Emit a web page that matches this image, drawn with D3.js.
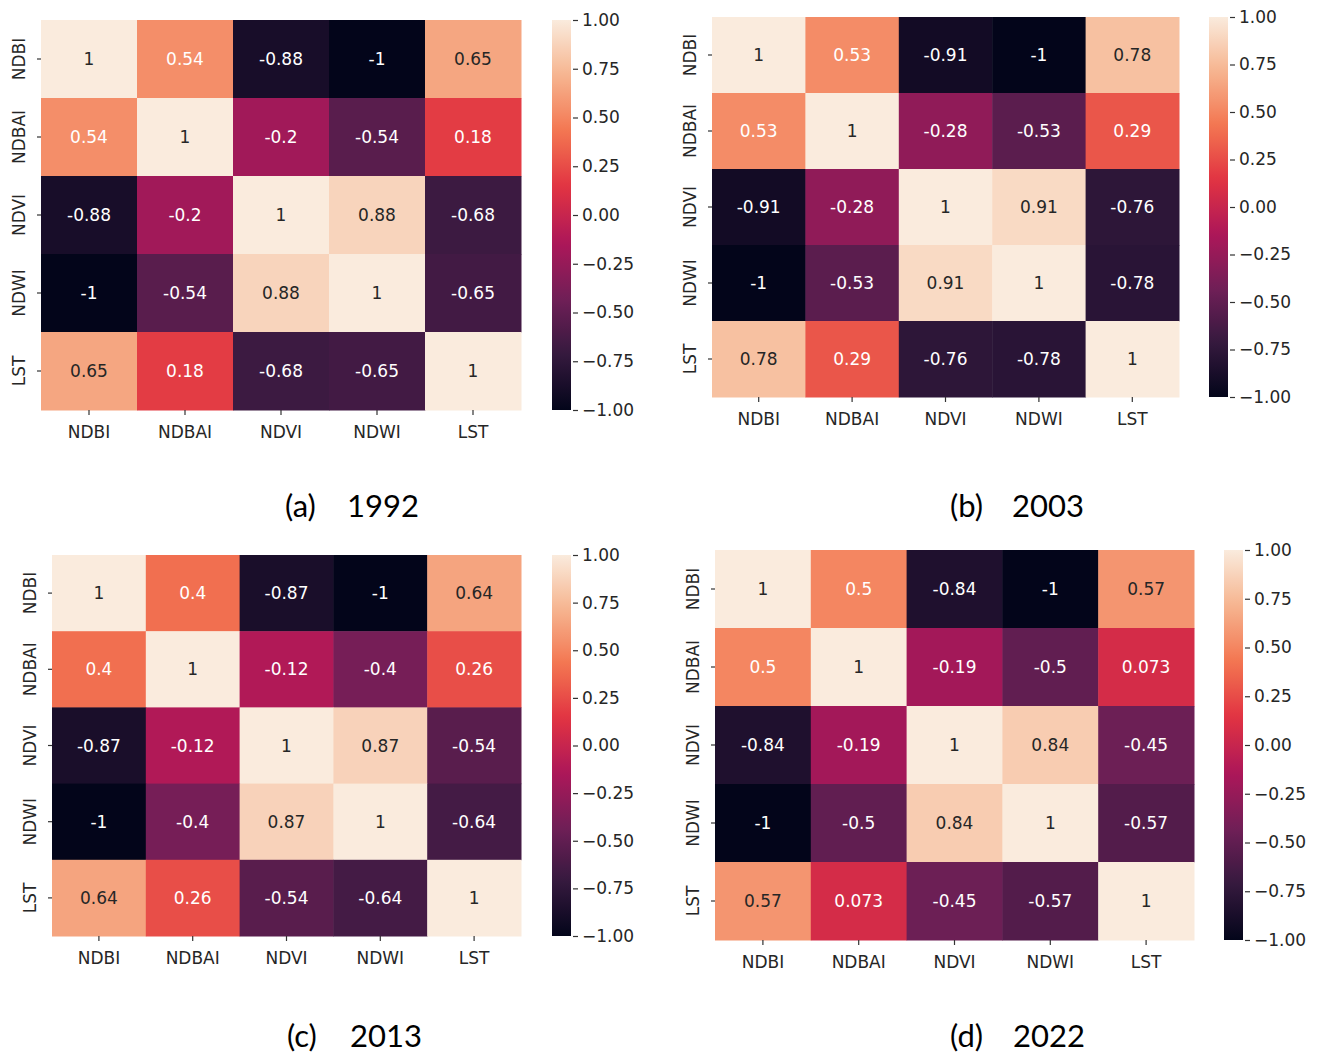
<!DOCTYPE html>
<html>
<head>
<meta charset="utf-8">
<script src="https://cdn.jsdelivr.net/npm/d3@7"></script>
<style>
  html, body { margin: 0; padding: 0; background: #fff; }
  svg { display: block; }
</style>
</head>
<body>
<svg id="chart" width="1320" height="1056"></svg>
<script>
// Correlation matrices between spectral indices and land surface temperature
const variables = ["NDBI", "NDBAI", "NDVI", "NDWI", "LST"];
const years = ["1992", "2003", "2013", "2022"];
const panelLetters = ["(a)", "(b)", "(c)", "(d)"];

const corr1992 = [
  [1, 0.54, -0.88, -1, 0.65],
  [0.54, 1, -0.2, -0.54, 0.18],
  [-0.88, -0.2, 1, 0.88, -0.68],
  [-1, -0.54, 0.88, 1, -0.65],
  [0.65, 0.18, -0.68, -0.65, 1]
];
const corr2003 = [
  [1, 0.53, -0.91, -1, 0.78],
  [0.53, 1, -0.28, -0.53, 0.29],
  [-0.91, -0.28, 1, 0.91, -0.76],
  [-1, -0.53, 0.91, 1, -0.78],
  [0.78, 0.29, -0.76, -0.78, 1]
];
const corr2013 = [
  [1, 0.4, -0.87, -1, 0.64],
  [0.4, 1, -0.12, -0.4, 0.26],
  [-0.87, -0.12, 1, 0.87, -0.54],
  [-1, -0.4, 0.87, 1, -0.64],
  [0.64, 0.26, -0.54, -0.64, 1]
];
const corr2022 = [
  [1, 0.5, -0.84, -1, 0.57],
  [0.5, 1, -0.19, -0.5, 0.073],
  [-0.84, -0.19, 1, 0.84, -0.45],
  [-1, -0.5, 0.84, 1, -0.57],
  [0.57, 0.073, -0.45, -0.57, 1]
];
const matrices = [corr1992, corr2003, corr2013, corr2022];
const colorbarTicks = [1, 0.75, 0.5, 0.25, 0, -0.25, -0.5, -0.75, -1];

// "rocket" colormap control points
const rocketStops = ["#03051a", "#35193e", "#701f57", "#ad1759", "#e13342", "#f37651", "#f6b48f", "#faebdd"];
const rocket = d3.scaleLinear()
  .domain(d3.range(rocketStops.length).map(i => i / (rocketStops.length - 1)))
  .range(rocketStops)
  .interpolate(d3.interpolateRgb);
const color = v => rocket((v + 1) / 2);

// Panel geometry: heatmap box and colourbar strip
const layout = [
  { x0: 41,  x1: 521,  y0: 20,  y1: 410, cb0: 552,  cb1: 571,  capX: 285, yearX: 347,  capY: 517 },
  { x0: 712, x1: 1179, y0: 17,  y1: 397, cb0: 1209, cb1: 1228, capX: 950, yearX: 1012, capY: 517 },
  { x0: 52,  x1: 521,  y0: 555, y1: 936, cb0: 552,  cb1: 571,  capX: 287, yearX: 350,  capY: 1047 },
  { x0: 715, x1: 1194, y0: 550, y1: 940, cb0: 1224, cb1: 1243, capX: 950, yearX: 1013, capY: 1047 }
];

const FONT = "'DejaVu Sans', sans-serif";
const TXT = "#262626";
const annotFmt = d3.formatLocale({ decimal: ".", thousands: ",", grouping: [3], currency: ["", ""], minus: "-" }).format(".2~g");
const cbFmt = d3.format(".2f");

// seaborn-style annotation colour from the cell's luminance
function textColor(fill) {
  const c = d3.rgb(fill);
  const lin = u => { u /= 255; return u <= 0.03928 ? u / 12.92 : Math.pow((u + 0.055) / 1.055, 2.4); };
  const lum = 0.2126 * lin(c.r) + 0.7152 * lin(c.g) + 0.0722 * lin(c.b);
  return lum > 0.408 ? TXT : "#ffffff";
}

const svg = d3.select("#chart");
const defs = svg.append("defs");

// vertical gradient for the colourbars
const grad = defs.append("linearGradient")
  .attr("id", "rocketGrad").attr("x1", 0).attr("y1", 1).attr("x2", 0).attr("y2", 0);
d3.range(0, 1.0001, 0.02).forEach(t => {
  grad.append("stop").attr("offset", t).attr("stop-color", rocket(t));
});

matrices.forEach((m, p) => {
  const L = layout[p];
  const g = svg.append("g");

  const x = d3.scaleBand().domain(variables).range([L.x0, L.x1]).padding(0);
  const y = d3.scaleBand().domain(variables).range([L.y0, L.y1]).padding(0);

  const cells = [];
  m.forEach((row, i) => row.forEach((v, j) => cells.push({ r: variables[i], c: variables[j], v })));

  g.selectAll("rect.cell").data(cells).join("rect")
    .attr("class", "cell")
    .attr("x", d => x(d.c))
    .attr("y", d => y(d.r))
    .attr("width", x.bandwidth() + 0.5)
    .attr("height", y.bandwidth() + 0.5)
    .attr("fill", d => color(d.v));

  g.selectAll("text.annot").data(cells).join("text")
    .attr("class", "annot")
    .attr("x", d => x(d.c) + x.bandwidth() / 2)
    .attr("y", d => y(d.r) + y.bandwidth() / 2)
    .attr("text-anchor", "middle")
    .attr("dominant-baseline", "central")
    .attr("font-family", FONT)
    .attr("font-size", 17)
    .attr("fill", d => textColor(color(d.v)))
    .text(d => annotFmt(d.v));

  // x axis
  const gx = g.append("g")
    .attr("transform", `translate(0,${L.y1})`)
    .call(d3.axisBottom(x).tickSize(5).tickPadding(11));
  gx.select(".domain").remove();
  gx.selectAll(".tick line").attr("stroke", "#333").attr("stroke-width", 1.2);
  gx.selectAll(".tick text")
    .attr("font-family", FONT).attr("font-size", 17).attr("fill", TXT);

  // y axis with rotated labels
  const gy = g.append("g")
    .attr("transform", `translate(${L.x0},0)`)
    .call(d3.axisLeft(y).tickSize(4));
  gy.select(".domain").remove();
  gy.selectAll(".tick line").attr("stroke", "#333").attr("stroke-width", 1.2);
  gy.selectAll(".tick text")
    .attr("transform", "rotate(-90)")
    .attr("x", 0).attr("y", -22).attr("dy", null)
    .attr("text-anchor", "middle")
    .attr("dominant-baseline", "central")
    .attr("font-family", FONT).attr("font-size", 17).attr("fill", TXT);

  // colourbar
  const cy = d3.scaleLinear().domain([-1, 1]).range([L.y1, L.y0]);
  g.append("rect")
    .attr("x", L.cb0).attr("y", L.y0)
    .attr("width", L.cb1 - L.cb0).attr("height", L.y1 - L.y0)
    .attr("fill", "url(#rocketGrad)");
  const gc = g.append("g")
    .attr("transform", `translate(${L.cb1 + 2},0)`)
    .call(d3.axisRight(cy).tickValues(colorbarTicks).tickFormat(cbFmt).tickSize(5).tickPadding(4));
  gc.select(".domain").remove();
  gc.selectAll(".tick line").attr("stroke", "#333").attr("stroke-width", 1.2);
  gc.selectAll(".tick text")
    .attr("font-family", FONT).attr("font-size", 17).attr("fill", TXT);

  // caption
  g.append("text")
    .attr("x", L.capX).attr("y", L.capY)
    .attr("font-family", "Lato, 'Open Sans', sans-serif")
    .attr("font-size", 31).attr("fill", "#000")
    .text(panelLetters[p]);
  g.append("text")
    .attr("x", L.yearX).attr("y", L.capY)
    .attr("font-family", "Lato, 'Open Sans', sans-serif")
    .attr("font-size", 31).attr("fill", "#000")
    .text(years[p]);
});
</script>
</body>
</html>
